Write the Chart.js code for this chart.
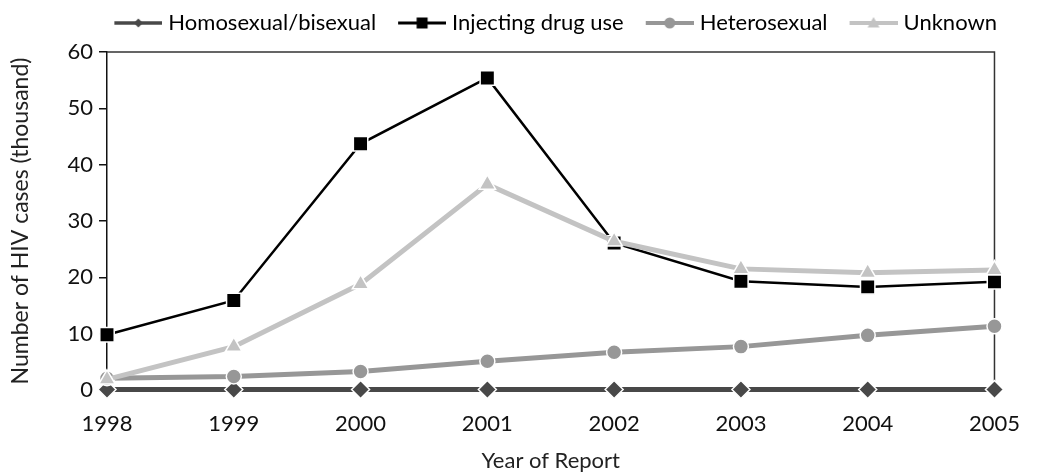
<!DOCTYPE html>
<html>
<head>
<meta charset="utf-8">
<script src="https://cdn.jsdelivr.net/npm/chart.js@4/dist/chart.umd.min.js"></script>
<style>
  html, body { margin: 0; padding: 0; background: #fff; }
  #wrap { width: 1041px; height: 474px; }
</style>
</head>
<body>
<div id="wrap"><canvas id="grafica" width="1041" height="474"></canvas></div>
<script>
// años de reporte
const years = ["1998", "1999", "2000", "2001", "2002", "2003", "2004", "2005"];

// casos de VIH (miles) por vía de transmisión
const homosexual = [0.1, 0.1, 0.1, 0.1, 0.1, 0.1, 0.1, 0.1];
const injecting = [9.8, 15.9, 43.7, 55.4, 26.1, 19.3, 18.3, 19.2];
const heterosexual = [2.1, 2.4, 3.3, 5.1, 6.7, 7.7, 9.7, 11.3];
const unknown = [1.9, 7.7, 18.8, 36.5, 26.4, 21.5, 20.8, 21.3];

const yTicks = [0, 10, 20, 30, 40, 50, 60];

const FONT = "Lato";

// icono de leyenda: línea con marcador, pegado a la derecha del lienzo
function legendIcon(color, lineWidth, style, r) {
    const c = document.createElement("canvas");
    c.width = 65; c.height = 22;
    const g = c.getContext("2d");
    const cx = 41, cy = 11;
    g.strokeStyle = color;
    g.lineWidth = lineWidth;
    g.beginPath(); g.moveTo(17, cy); g.lineTo(65, cy); g.stroke();
    g.fillStyle = color;
    g.beginPath();
    if (style === "rectRot") {
        g.moveTo(cx, cy - r); g.lineTo(cx + r, cy); g.lineTo(cx, cy + r); g.lineTo(cx - r, cy);
    } else if (style === "rect") {
        g.rect(cx - r, cy - r, 2 * r, 2 * r);
    } else if (style === "circle") {
        g.arc(cx, cy, r, 0, Math.PI * 2);
    } else {
        g.moveTo(cx, cy - r); g.lineTo(cx + r, cy + r * 0.75); g.lineTo(cx - r, cy + r * 0.75);
    }
    g.closePath();
    g.fill();
    return c;
}

const series = [
    { label: "Homosexual/bisexual", data: homosexual, color: "#484848", width: 5, style: "rectRot", radius: 9, order: 3, iconLine: 3.5, icon: 4.5 },
    { label: "Injecting drug use", data: injecting, color: "#000000", width: 2.5, style: "rect", radius: 10.2, order: 1, iconLine: 3, icon: 5.5 },
    { label: "Heterosexual", data: heterosexual, color: "#979797", width: 5, style: "circle", radius: 7.5, order: 2, iconLine: 4, icon: 5.5 },
    { label: "Unknown", data: unknown, color: "#c3c3c3", width: 5, style: "triangle", radius: 9.5, order: 0, iconLine: 4, icon: 6 }
];

// marco superior y derecho del área de trazado
const frame = {
    id: "frame",
    beforeDatasetsDraw(chart) {
        const a = chart.chartArea;
        const ctx = chart.ctx;
        ctx.save();
        ctx.lineWidth = 1.5;
        ctx.strokeStyle = "#333";
        ctx.beginPath();
        ctx.moveTo(a.left, a.top);
        ctx.lineTo(a.right, a.top);
        ctx.lineTo(a.right, a.bottom);
        ctx.stroke();
        ctx.restore();
    }
};

// espacio extra bajo la leyenda
const legendGap = {
    id: "legendGap",
    afterInit(chart) {
        const lg = chart.legend;
        const fit = lg.fit;
        lg.fit = function () { fit.call(this); this.height += 8; };
    }
};

new Chart(document.getElementById("grafica"), {
    type: "line",
    data: {
        labels: years,
        datasets: series.map(s => ({
            label: s.label,
            data: s.data,
            order: s.order,
            borderColor: s.color,
            backgroundColor: s.color,
            borderWidth: s.width,
            pointStyle: s.style,
            pointRadius: s.radius,
            pointBorderColor: "#ffffff",
            pointBorderWidth: 1.5,
            tension: 0,
            fill: false,
            clip: false
        }))
    },
    options: {
        responsive: false,
        animation: false,
        layout: { padding: { left: 4, right: 34, top: 2, bottom: 0 } },
        plugins: {
            tooltip: { enabled: false },
            legend: {
                position: "top",
                align: "end",
                labels: {
                    color: "#222",
                    font: { family: FONT, size: 22 },
                    usePointStyle: true,
                    pointStyleWidth: 55,
                    padding: 10,
                    generateLabels() {
                        return series.map((s, i) => ({
                            text: s.label,
                            fillStyle: s.color,
                            strokeStyle: s.color,
                            lineWidth: 0,
                            pointStyle: legendIcon(s.color, s.iconLine, s.style, s.icon),
                            datasetIndex: i,
                            hidden: false
                        }));
                    }
                }
            }
        },
        scales: {
            x: {
                offset: false,
                afterFit(axis) { axis.height = 84; },
                grid: { display: false, drawTicks: false, tickLength: 0 },
                border: { display: true, color: "#333", width: 1.5 },
                ticks: { color: "#111", font: { family: FONT, size: 22 }, padding: 21, maxRotation: 0 },
                title: { display: true, text: "Year of Report", color: "#222", font: { family: FONT, size: 22 }, padding: { top: 0, bottom: 0 } }
            },
            y: {
                min: 0,
                max: 60,
                afterFit(axis) { axis.width = 103; },
                afterBuildTicks(axis) { axis.ticks = yTicks.map(v => ({ value: v })); },
                grid: { display: true, drawOnChartArea: false, drawTicks: true, tickLength: 8, color: "#111", lineWidth: 1.5 },
                border: { display: true, color: "#111", width: 1.5 },
                ticks: { color: "#111", font: { family: FONT, size: 22 }, padding: 6 },
                title: { display: true, text: "Number of HIV cases (thousand)", color: "#222", font: { family: FONT, size: 23 }, padding: { top: 3, bottom: 0 } }
            }
        }
    },
    plugins: [frame, legendGap]
});
</script>
</body>
</html>
